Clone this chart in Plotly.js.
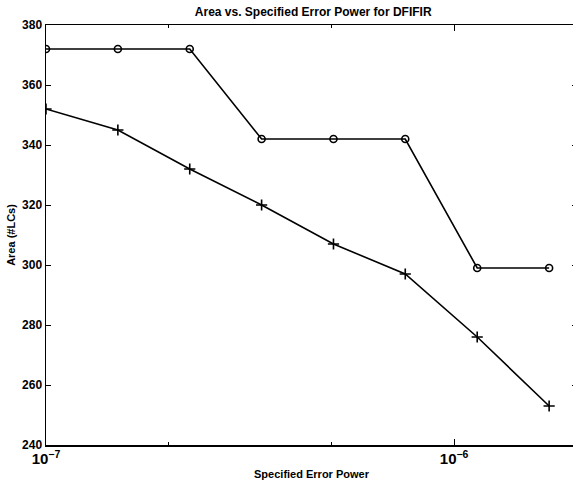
<!DOCTYPE html>
<html>
<head>
<meta charset="utf-8">
<script src="https://cdn.plot.ly/plotly-3.0.1.min.js"></script>
<style>html,body{margin:0;padding:0;overflow:hidden;background:#fff;width:573px;height:480px}</style>
</head>
<body>
<div id="chart"></div>
<script>
const errorPower = [1e-7, 1.5e-7, 2.25e-7, 3.375e-7, 5.0625e-7, 7.59e-7, 1.139e-6, 1.709e-6];
const areaCircle = [372, 372, 372, 342, 342, 342, 299, 299];
const areaPlus = [352, 345, 332, 320, 307, 297, 276, 253];
const yTicks = [240, 260, 280, 300, 320, 340, 360, 380];

const fnt = {family: 'Liberation Sans, Arial, Helvetica, sans-serif', size: 11, color: '#000', weight: 'bold'};
const tickFnt = Object.assign({}, fnt, {size: 12});
const titleFnt = Object.assign({}, fnt, {size: 12});

const traces = [
  {x: errorPower, y: areaCircle, mode: 'lines+markers', type: 'scatter',
   line: {color: '#000', width: 1.6},
   marker: {symbol: 'circle-open', size: 7, color: '#000', line: {width: 1.6, color: '#000'}}},
  {x: errorPower, y: areaPlus, mode: 'lines+markers', type: 'scatter',
   line: {color: '#000', width: 1.6},
   marker: {symbol: 'cross-thin-open', size: 8, color: '#000', line: {width: 1.6, color: '#000'}}}
];

const layout = {
  width: 580, height: 480,
  margin: {l: 46, r: 3, t: 25, b: 35},
  paper_bgcolor: '#fff', plot_bgcolor: '#fff',
  showlegend: false,
  font: fnt,
  title: {text: 'Area vs. Specified Error Power for DFIFIR', font: titleFnt, x: 0.54, xanchor: 'center', y: 0.975, yanchor: 'middle'},
  xaxis: {
    type: 'log', range: [-7, Math.log10(2e-6)],
    dtick: 1, exponentformat: 'power', showexponent: 'all',
    ticks: 'inside', ticklen: 6, tickwidth: 1, tickcolor: '#000',
    minor: {ticks: 'inside', ticklen: 3, tickcolor: '#000', dtick: 'D2', showgrid: false},
    showline: true, linecolor: '#000', linewidth: 1.5, mirror: 'ticks',
    showgrid: false, zeroline: false,
    tickfont: tickFnt,
    title: {text: 'Specified Error Power', font: fnt, standoff: 6}
  },
  yaxis: {
    range: [240, 380], tickvals: yTicks, ticktext: yTicks.map(String),
    ticks: 'inside', ticklen: 5, tickwidth: 1, tickcolor: '#000',
    showline: true, linecolor: '#000', linewidth: 1.5, mirror: 'ticks',
    showgrid: false, zeroline: false,
    tickfont: tickFnt,
    title: {text: 'Area (#LCs)', font: fnt, standoff: 4}
  }
};

Plotly.newPlot('chart', traces, layout, {displayModeBar: false, staticPlot: true});
</script>
</body>
</html>
